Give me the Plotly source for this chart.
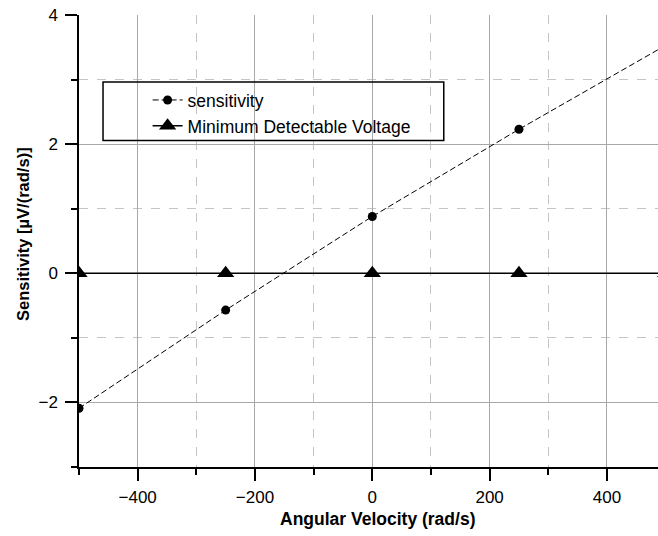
import plotly.graph_objects as go

# Angular velocity sample points (rad/s)
velocity = [-500, -250, 0, 250, 500]
# Measured sensitivity (µV per rad/s)
sensitivity = [-2.09, -0.57, 0.88, 2.23, 3.53]
# Minimum detectable voltage at the same sample points
min_detectable = [0, 0, 0, 0, 0]

series_names = ["sensitivity", "Minimum Detectable Voltage"]
x_title = "Angular Velocity (rad/s)"
y_title = "Sensitivity [µV/(rad/s)]"

FONT = "Liberation Sans, Arial, Helvetica, sans-serif"

fig = go.Figure()

fig.add_trace(go.Scatter(
    x=velocity, y=sensitivity, name=series_names[0],
    mode="lines+markers",
    line=dict(color="black", width=1, dash="6px,3px"),
    marker=dict(symbol="circle", size=9, color="black"),
))
fig.add_trace(go.Scatter(
    x=velocity, y=min_detectable, name=series_names[1],
    mode="lines+markers",
    line=dict(color="black", width=1.5),
    marker=dict(symbol="triangle-up", size=15, color="black"),
))

# Frame drawn around the legend entries
fig.add_shape(
    type="rect", xref="paper", yref="paper",
    x0=0.0415, x1=0.630, y0=0.7223, y1=0.8518,
    line=dict(color="black", width=1.5), fillcolor="rgba(0,0,0,0)",
    layer="above",
)

# Axis titles placed as annotations for finer positioning
fig.add_annotation(
    text="<b>" + x_title + "</b>", xref="paper", yref="paper",
    x=0.5164, y=-0.115, xanchor="center", yanchor="middle",
    showarrow=False, font=dict(family=FONT, size=17.5, color="black"),
)
fig.add_annotation(
    text="<b>" + y_title + "</b>", xref="paper", yref="paper",
    x=-0.0967, y=0.5155, xanchor="center", yanchor="middle", textangle=-90,
    showarrow=False, font=dict(family=FONT, size=16.5, color="black"),
)

axis_common = dict(
    showline=True, linecolor="black", linewidth=1.5,
    ticks="outside", ticklen=12, tickwidth=1.5, tickcolor="black",
    showgrid=True, gridcolor="#a8a8a8", gridwidth=1,
    zeroline=False,
    tickfont=dict(family=FONT, size=17, color="black"),
)

fig.update_layout(
    width=658, height=536,
    margin=dict(l=79, r=0, t=15, b=69),
    paper_bgcolor="white", plot_bgcolor="white",
    font=dict(family=FONT, color="black"),
    xaxis=dict(
        range=[-500, 487], tick0=0, dtick=200,
        minor=dict(dtick=100, ticks="outside", ticklen=6, tickwidth=1.5,
                   tickcolor="black", showgrid=True, gridcolor="#c4c4c4",
                   griddash="dash", gridwidth=1),
        ticklabelstandoff=2,
        **axis_common,
    ),
    yaxis=dict(
        range=[-3, 4], tick0=0, dtick=2,
        minor=dict(dtick=1, ticks="outside", ticklen=6, tickwidth=1.5,
                   tickcolor="black", showgrid=True, gridcolor="#c4c4c4",
                   griddash="dash", gridwidth=1),
        ticklabelstandoff=4,
        **axis_common,
    ),
    showlegend=True,
    legend=dict(
        x=0.1185, y=0.8516, xanchor="left", yanchor="top",
        bgcolor="rgba(0,0,0,0)", borderwidth=0,
        font=dict(family=FONT, size=17.5, color="black"),
        tracegroupgap=0,
    ),
)

fig.write_html("out.html")
